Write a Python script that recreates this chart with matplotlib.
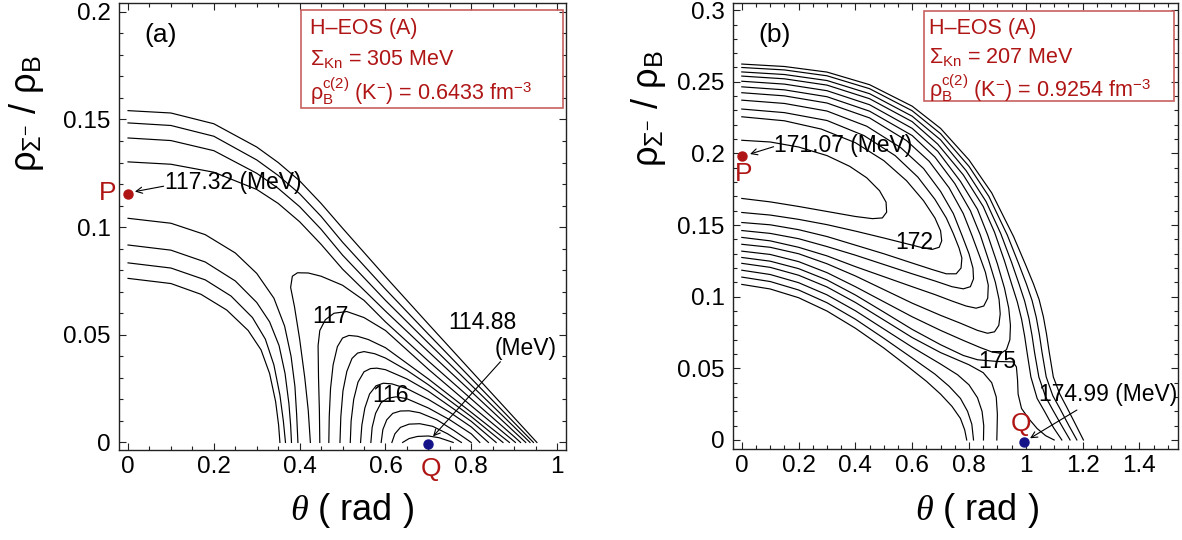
import matplotlib
matplotlib.use("Agg")
import matplotlib.pyplot as plt
from matplotlib.patches import Rectangle
from matplotlib.ticker import MultipleLocator

plt.rcParams['font.family'] = ['Liberation Sans', 'DejaVu Sans']
plt.rcParams['mathtext.fontset'] = 'custom'
plt.rcParams['mathtext.rm'] = 'Liberation Sans'
plt.rcParams['mathtext.sf'] = 'Liberation Sans'
plt.rcParams['mathtext.it'] = 'Liberation Serif:italic'
plt.rcParams['mathtext.bf'] = 'Liberation Sans:bold'

# ---------------- panel (a) data: contour lines (theta, rho_Sigma/rho_B) ----------------
a_T1 = [(0,0.1541),(0.1,0.1530),(0.2,0.1480),(0.3,0.1372),(0.35,0.1300),(0.4,0.1215),(0.45,0.1110),(0.5,0.0995),(0.6,0.0770),(0.7,0.0550),(0.8,0.0332),(0.9,0.0115),(0.953,0)]
a_T2 = [(0,0.1484),(0.1,0.1472),(0.2,0.1422),(0.3,0.1312),(0.35,0.1240),(0.4,0.1155),(0.45,0.1050),(0.5,0.0930),(0.6,0.0712),(0.7,0.0503),(0.8,0.0297),(0.9,0.0092),(0.945,0)]
a_T3 = [(0,0.1414),(0.1,0.1402),(0.2,0.1355),(0.3,0.1250),(0.35,0.1180),(0.4,0.1095),(0.45,0.0990),(0.5,0.0870),(0.6,0.0660),(0.7,0.0462),(0.8,0.0266),(0.9,0.0072),(0.937,0)]
a_T4 = [(0,0.1303),(0.1,0.1292),(0.2,0.1255),(0.3,0.1175),(0.35,0.1110),(0.4,0.1025),(0.45,0.0920),(0.5,0.0805),(0.6,0.0610),(0.7,0.0422),(0.8,0.0236),(0.9,0.0050),(0.927,0)]
a_H0 = [(0.425,0),(0.420,0.015),(0.412,0.030),(0.400,0.048),(0.388,0.063),(0.379,0.072),(0.383,0.0772),(0.395,0.0788),(0.420,0.0787),(0.45,0.0772),(0.5,0.0730),(0.55,0.0660),(0.6,0.0560),(0.7,0.0378),(0.8,0.0202),(0.9,0.0027),(0.915,0)]
a_L117 = [(0.447,0),(0.446,0.015),(0.444,0.030),(0.443,0.045),(0.447,0.052),(0.460,0.057),(0.480,0.0600),(0.510,0.0608),(0.55,0.0580),(0.6,0.0520),(0.7,0.0340),(0.8,0.0170),(0.903,0)]
a_h1 = [(0.468,0),(0.469,0.012),(0.472,0.025),(0.478,0.036),(0.488,0.0445),(0.500,0.0485),(0.515,0.0497),(0.535,0.0493),(0.56,0.0478),(0.6,0.0440),(0.7,0.0295),(0.8,0.0140),(0.889,0)]
a_h2 = [(0.494,0),(0.496,0.012),(0.501,0.024),(0.510,0.033),(0.522,0.039),(0.535,0.0415),(0.550,0.0422),(0.575,0.0412),(0.6,0.0392),(0.65,0.0335),(0.7,0.0268),(0.8,0.0120),(0.874,0)]
a_h3 = [(0.518,0),(0.520,0.010),(0.526,0.020),(0.536,0.028),(0.550,0.0328),(0.565,0.0343),(0.580,0.0345),(0.6,0.0338),(0.65,0.0295),(0.7,0.0238),(0.8,0.0098),(0.858,0)]
a_h4 = [(0.542,0),(0.545,0.008),(0.552,0.016),(0.563,0.0225),(0.578,0.0263),(0.595,0.0275),(0.615,0.0272),(0.65,0.0250),(0.7,0.0200),(0.75,0.0140),(0.8,0.0072),(0.840,0)]
a_h5 = [(0.566,0),(0.569,0.007),(0.577,0.0135),(0.590,0.0185),(0.605,0.0205),(0.625,0.0212),(0.65,0.0203),(0.7,0.0160),(0.75,0.0105),(0.8,0.0040),(0.820,0)]
a_h6 = [(0.590,0),(0.594,0.006),(0.603,0.0105),(0.617,0.0135),(0.635,0.0146),(0.655,0.0147),(0.68,0.0138),(0.72,0.0105),(0.76,0.0055),(0.80,0)]
a_h7 = [(0.615,0),(0.622,0.004),(0.635,0.0070),(0.655,0.0085),(0.68,0.0087),(0.71,0.0075),(0.745,0.0040),(0.777,0)]
a_h8 = [(0.640,0),(0.655,0.0018),(0.675,0.0028),(0.700,0.0030),(0.725,0.0022),(0.758,0)]
a_A1 = [(0,0.1041),(0.1,0.1018),(0.18,0.0965),(0.25,0.0880),(0.30,0.0785),(0.34,0.0670),(0.365,0.0540),(0.380,0.0400),(0.389,0.0260),(0.393,0.0130),(0.396,0)]
a_A2 = [(0,0.0917),(0.1,0.0893),(0.18,0.0838),(0.25,0.0750),(0.30,0.0650),(0.33,0.0560),(0.352,0.0450),(0.366,0.0320),(0.375,0.0180),(0.379,0.0080),(0.381,0)]
a_A3 = [(0,0.0834),(0.1,0.0810),(0.18,0.0755),(0.24,0.0680),(0.29,0.0580),(0.32,0.0480),(0.340,0.0360),(0.354,0.0220),(0.362,0.0100),(0.367,0)]
a_A4 = [(0,0.0762),(0.1,0.0738),(0.17,0.0688),(0.23,0.0615),(0.28,0.0520),(0.31,0.0430),(0.33,0.0320),(0.344,0.0190),(0.351,0.0080),(0.354,0)]

a_P = (0.0, 0.1155)
a_Q = (0.70, -0.0008)
a_P_value = "117.32 (MeV)"
a_Q_value = ["114.88", "(MeV)"]
a_level_labels = [("117", 0.471, 0.0585), ("116", 0.612, 0.0218)]
a_box = ["H\u2013EOS (A)", "\u03a3$_{\\mathrm{Kn}}$ = 305 MeV",
         "\u03c1$_{\\mathrm{B}}^{\\mathrm{c(2)}}$ (K$^{-}$) = 0.6433 fm$^{-3}$"]
a_xticks = [0, 0.2, 0.4, 0.6, 0.8, 1.0]
a_xticklabels = ["0", "0.2", "0.4", "0.6", "0.8", "1"]
a_yticks = [0, 0.05, 0.1, 0.15, 0.2]
a_yticklabels = ["0", "0.05", "0.1", "0.15", "0.2"]

# ---------------- panel (b) data ----------------
b_U1 = [(0,0.2624),(0.15,0.2607),(0.30,0.2568),(0.45,0.2480),(0.60,0.2330),(0.70,0.2175),(0.80,0.1955),(0.88,0.1725),(0.957,0.1420),(1.000,0.1220),(1.027,0.1090),(1.047,0.0980),(1.062,0.0860),(1.073,0.0740),(1.082,0.0620),(1.097,0.0440),(1.120,0.0320),(1.144,0.0230),(1.175,0.0110),(1.203,0)]
b_U2 = [(0,0.2600),(0.15,0.2583),(0.30,0.2542),(0.45,0.2452),(0.60,0.2298),(0.70,0.2138),(0.80,0.1910),(0.87,0.1700),(0.935,0.1430),(0.975,0.1230),(1.002,0.1090),(1.022,0.0975),(1.037,0.0855),(1.048,0.0735),(1.057,0.0615),(1.072,0.0440),(1.095,0.0310),(1.120,0.0220),(1.152,0.0100),(1.180,0)]
b_U3 = [(0,0.2569),(0.15,0.2551),(0.30,0.2509),(0.45,0.2417),(0.60,0.2260),(0.70,0.2095),(0.79,0.1880),(0.86,0.1665),(0.912,0.1440),(0.950,0.1240),(0.976,0.1090),(0.996,0.0970),(1.011,0.0850),(1.022,0.0730),(1.031,0.0610),(1.046,0.0440),(1.070,0.0300),(1.095,0.0210),(1.128,0.0095),(1.156,0)]
b_U4 = [(0,0.2540),(0.15,0.2521),(0.30,0.2477),(0.45,0.2382),(0.60,0.2222),(0.69,0.2065),(0.78,0.1850),(0.85,0.1630),(0.890,0.1450),(0.925,0.1250),(0.950,0.1090),(0.970,0.0965),(0.985,0.0845),(0.996,0.0725),(1.005,0.0605),(1.018,0.0440),(1.040,0.0290),(1.066,0.0200),(1.098,0.0085),(1.127,0)]
b_H7 = [(0,0.2504),(0.15,0.2484),(0.30,0.2438),(0.45,0.2340),(0.60,0.2175),(0.69,0.2015),(0.77,0.1805),(0.83,0.1610),(0.866,0.1430),(0.900,0.1230),(0.925,0.1060),(0.940,0.0920),(0.946,0.0800),(0.944,0.0700),(0.932,0.0630),(0.912,0.0605),(0.880,0.0615),(0.840,0.0645),(0.780,0.0695),(0.700,0.0765),(0.600,0.0860),(0.500,0.0965),(0.400,0.1070),(0.300,0.1168),(0.200,0.1245),(0.100,0.1295),(0,0.1318)]
b_H6 = [(0,0.2465),(0.15,0.2444),(0.30,0.2396),(0.45,0.2295),(0.60,0.2125),(0.68,0.1975),(0.75,0.1790),(0.805,0.1600),(0.840,0.1430),(0.870,0.1250),(0.893,0.1100),(0.906,0.0980),(0.910,0.0880),(0.905,0.0800),(0.890,0.0755),(0.865,0.0745),(0.830,0.0765),(0.770,0.0815),(0.700,0.0870),(0.600,0.0955),(0.500,0.1050),(0.400,0.1145),(0.300,0.1230),(0.200,0.1300),(0.100,0.1345),(0,0.1366)]
b_H5 = [(0,0.2424),(0.15,0.2402),(0.30,0.2352),(0.45,0.2248),(0.58,0.2090),(0.66,0.1945),(0.73,0.1760),(0.780,0.1580),(0.810,0.1430),(0.838,0.1280),(0.858,0.1170),(0.868,0.1080),(0.866,0.0990),(0.852,0.0935),(0.825,0.0920),(0.790,0.0935),(0.740,0.0970),(0.680,0.1015),(0.600,0.1070),(0.500,0.1140),(0.400,0.1210),(0.300,0.1285),(0.200,0.1345),(0.100,0.1390),(0,0.1414)]
b_H4 = [(0,0.2372),(0.15,0.2349),(0.30,0.2296),(0.44,0.2190),(0.56,0.2040),(0.64,0.1895),(0.70,0.1735),(0.745,0.1580),(0.775,0.1430),(0.800,0.1300),(0.814,0.1200),(0.816,0.1125),(0.805,0.1070),(0.780,0.1055),(0.740,0.1070),(0.680,0.1110),(0.600,0.1160),(0.500,0.1225),(0.400,0.1290),(0.300,0.1350),(0.200,0.1405),(0.100,0.1442),(0,0.1462)]
b_H3 = [(0,0.2310),(0.15,0.2285),(0.30,0.2230),(0.43,0.2125),(0.54,0.1985),(0.62,0.1835),(0.68,0.1680),(0.720,0.1550),(0.745,0.1440),(0.765,0.1340),(0.775,0.1270),(0.772,0.1200),(0.755,0.1160),(0.720,0.1160),(0.670,0.1190),(0.600,0.1235),(0.500,0.1300),(0.400,0.1360),(0.300,0.1420),(0.200,0.1468),(0.100,0.1502),(0,0.1518)]
b_H2 = [(0,0.2256),(0.15,0.2228),(0.28,0.2170),(0.40,0.2075),(0.50,0.1950),(0.58,0.1810),(0.64,0.1670),(0.680,0.1550),(0.700,0.1460),(0.704,0.1390),(0.695,0.1345),(0.670,0.1330),(0.630,0.1345),(0.580,0.1370),(0.500,0.1410),(0.400,0.1458),(0.300,0.1503),(0.200,0.1540),(0.100,0.1570),(0,0.1588)]
b_H1 = [(0,0.2092),(0.10,0.2080),(0.20,0.2045),(0.30,0.1985),(0.38,0.1910),(0.44,0.1830),(0.485,0.1740),(0.508,0.1660),(0.510,0.1590),(0.495,0.1550),(0.460,0.1545),(0.400,0.1560),(0.300,0.1595),(0.200,0.1630),(0.100,0.1662),(0,0.1686)]
b_L175 = [(0,0.1274),(0.10,0.1248),(0.20,0.1196),(0.30,0.1117),(0.40,0.1012),(0.50,0.0893),(0.60,0.0772),(0.70,0.0665),(0.78,0.0590),(0.83,0.0560),(0.90,0.0548),(0.955,0.0545),(0.967,0.0510),(0.971,0.0420),(0.973,0.0320),(0.985,0.0220),(1.010,0.0150),(1.040,0.0080),(1.070,0.0030),(1.100,0)]
b_L8 = [(0,0.1233),(0.10,0.1205),(0.20,0.1150),(0.30,0.1068),(0.40,0.0960),(0.50,0.0838),(0.60,0.0715),(0.70,0.0610),(0.80,0.0525),(0.85,0.0470),(0.880,0.0400),(0.896,0.0300),(0.900,0.0180),(0.899,0.0080),(0.898,0)]
b_L9 = [(0,0.1185),(0.10,0.1155),(0.20,0.1098),(0.30,0.1013),(0.40,0.0902),(0.50,0.0775),(0.60,0.0648),(0.70,0.0530),(0.76,0.0455),(0.80,0.0385),(0.830,0.0295),(0.846,0.0200),(0.852,0.0100),(0.851,0)]
b_L10 = [(0,0.1137),(0.10,0.1106),(0.20,0.1047),(0.30,0.0958),(0.40,0.0843),(0.50,0.0710),(0.60,0.0572),(0.68,0.0460),(0.73,0.0375),(0.77,0.0290),(0.795,0.0200),(0.810,0.0110),(0.816,0)]
b_L11 = [(0,0.1086),(0.10,0.1054),(0.20,0.0993),(0.30,0.0900),(0.40,0.0780),(0.50,0.0642),(0.58,0.0520),(0.65,0.0410),(0.70,0.0320),(0.74,0.0235),(0.77,0.0150),(0.785,0.0070),(0.792,0)]

b_P = (0.002, 0.198)
b_Q = (0.994, -0.0015)
b_P_value = "171.07 (MeV)"
b_Q_value = "174.99 (MeV)"
b_level_labels = [("172", 0.607, 0.1375), ("175", 0.900, 0.0548)]
b_box = ["H\u2013EOS (A)", "\u03a3$_{\\mathrm{Kn}}$ = 207 MeV",
         "\u03c1$_{\\mathrm{B}}^{\\mathrm{c(2)}}$ (K$^{-}$) = 0.9254 fm$^{-3}$"]
b_xticks = [0, 0.2, 0.4, 0.6, 0.8, 1.0, 1.2, 1.4]
b_xticklabels = ["0", "0.2", "0.4", "0.6", "0.8", "1", "1.2", "1.4"]
b_yticks = [0, 0.05, 0.1, 0.15, 0.2, 0.25, 0.3]
b_yticklabels = ["0", "0.05", "0.1", "0.15", "0.2", "0.25", "0.3"]

lines_a = [a_T1, a_T2, a_T3, a_T4, a_H0, a_L117, a_h1, a_h2, a_h3, a_h4, a_h5,
           a_h6, a_h7, a_h8, a_A1, a_A2, a_A3, a_A4]
lines_b = [b_U1, b_U2, b_U3, b_U4, b_H7, b_H6, b_H5, b_H4, b_H3, b_H2, b_H1,
           b_L175, b_L8, b_L9, b_L10, b_L11]

RED = '#B01515'
BOXRED = '#C86060'
BLUE = '#141488'

fig = plt.figure(figsize=(11.82, 5.40), dpi=100)
axA = fig.add_axes([0.1007, 0.1667, 0.3782, 0.8278])
axB = fig.add_axes([0.6199, 0.1685, 0.3767, 0.8259])


def style_axes(ax, xlim, ylim, xt, xtl, yt, ytl):
    ax.set_xlim(*xlim)
    ax.set_ylim(*ylim)
    ax.set_xticks(xt)
    ax.set_xticklabels(xtl)
    ax.set_yticks(yt)
    ax.set_yticklabels(ytl)
    ax.xaxis.set_minor_locator(MultipleLocator(0.05))
    ax.yaxis.set_minor_locator(MultipleLocator(0.01))
    ax.tick_params(which='both', direction='in', top=True, right=True,
                   width=0.8, colors='#222222', labelcolor='black')
    ax.tick_params(which='major', length=5.0, labelsize=17.5)
    ax.tick_params(axis='x', which='major', pad=4)
    ax.tick_params(axis='y', which='major', pad=6)
    ax.tick_params(which='minor', length=2.6)
    for s in ax.spines.values():
        s.set_linewidth(1.0)
        s.set_color('#222222')


def draw_lines(ax, lines):
    for ln in lines:
        xs = [p[0] for p in ln]
        ys = [p[1] for p in ln]
        ax.plot(xs, ys, color='black', lw=0.85, solid_joinstyle='round')


def draw_box(ax, x0, y0, w, h, texts, tx, tys):
    ax.add_patch(Rectangle((x0, y0), w, h, transform=ax.transAxes, fill=False,
                           edgecolor=BOXRED, lw=1.2, zorder=5))
    for t, ty in zip(texts, tys):
        ax.text(tx, ty, t, transform=ax.transAxes, color=RED, fontsize=15.5,
                ha='left', va='center', zorder=6)


def arrow(ax, head, tail):
    ax.annotate('', xy=head, xytext=tail,
                arrowprops=dict(arrowstyle='->', color='black', lw=0.8,
                                shrinkA=0, shrinkB=0, mutation_scale=11))


# ---------------- panel (a) ----------------
style_axes(axA, (-0.021, 1.021), (-0.0035, 0.2041), a_xticks, a_xticklabels,
           a_yticks, a_yticklabels)
draw_lines(axA, lines_a)
for txt, x, y in a_level_labels:
    axA.text(x, y, txt, fontsize=16.5, ha='center', va='center')
axA.plot([a_P[0]], [a_P[1]], 'o', color=RED, ms=6.5, clip_on=False, zorder=7)
axA.plot([a_Q[0]], [a_Q[1]], 'o', color=BLUE, ms=6.5, clip_on=False, zorder=7)
axA.text(-0.048, 0.1157, 'P', color=RED, fontsize=19, ha='center', va='center')
axA.text(0.706, -0.0125, 'Q', color=RED, fontsize=19, ha='center', va='center',
         clip_on=False)
axA.text(0.085, 0.1207, a_P_value, fontsize=16.5, ha='left', va='center')
arrow(axA, (0.016, 0.1165), (0.083, 0.1190))
axA.text(0.747, 0.0555, a_Q_value[0], fontsize=16.5, ha='left', va='center')
axA.text(0.855, 0.0438, a_Q_value[1], fontsize=16.5, ha='left', va='center')
arrow(axA, (0.711, 0.0028), (0.868, 0.0375))
axA.text(0.077, 0.189, '(a)', fontsize=19, ha='center', va='center')
draw_box(axA, 0.407, 0.765, 0.586, 0.219, a_box, 0.428, [0.943, 0.874, 0.803])

# ---------------- panel (b) ----------------
style_axes(axB, (-0.032, 1.536), (-0.0063, 0.305), b_xticks, b_xticklabels,
           b_yticks, b_yticklabels)
draw_lines(axB, lines_b)
for txt, x, y in b_level_labels:
    axB.text(x, y, txt, fontsize=16.5, ha='center', va='center')
axB.plot([b_P[0]], [b_P[1]], 'o', color=RED, ms=6.5, clip_on=False, zorder=7)
axB.plot([b_Q[0]], [b_Q[1]], 'o', color=BLUE, ms=6.5, clip_on=False, zorder=7)
axB.text(0.006, 0.186, 'P', color=RED, fontsize=19, ha='center', va='center')
axB.text(0.983, 0.0115, 'Q', color=RED, fontsize=19, ha='center', va='center')
axB.text(0.112, 0.2054, b_P_value, fontsize=16.5, ha='left', va='center')
arrow(axB, (0.029, 0.1996), (0.112, 0.2047))
axB.text(1.045, 0.0319, b_Q_value, fontsize=16.5, ha='left', va='center')
arrow(axB, (1.015, 0.0012), (1.18, 0.0209))
axB.text(0.114, 0.2826, '(b)', fontsize=19, ha='center', va='center')
draw_box(axB, 0.430, 0.780, 0.562, 0.201, b_box, 0.441, [0.943, 0.878, 0.810])

# ---------------- axis labels ----------------
ylab = "\u03c1$_{\\Sigma^{-}}$ / \u03c1$_{\\mathrm{B}}$"
xlab = "$\\theta$ ( rad )"
fig.text(26 / 1182, 1 - 114 / 540, ylab, rotation=90, fontsize=26,
         ha='center', va='center')
fig.text(649 / 1182, 1 - 109 / 540, ylab, rotation=90, fontsize=26,
         ha='center', va='center')
fig.text(352 / 1182, 1 - 511 / 540, xlab, fontsize=26, ha='center', va='center')
fig.text(977 / 1182, 1 - 511 / 540, xlab, fontsize=26, ha='center', va='center')

fig.savefig('out.png', dpi=100)
